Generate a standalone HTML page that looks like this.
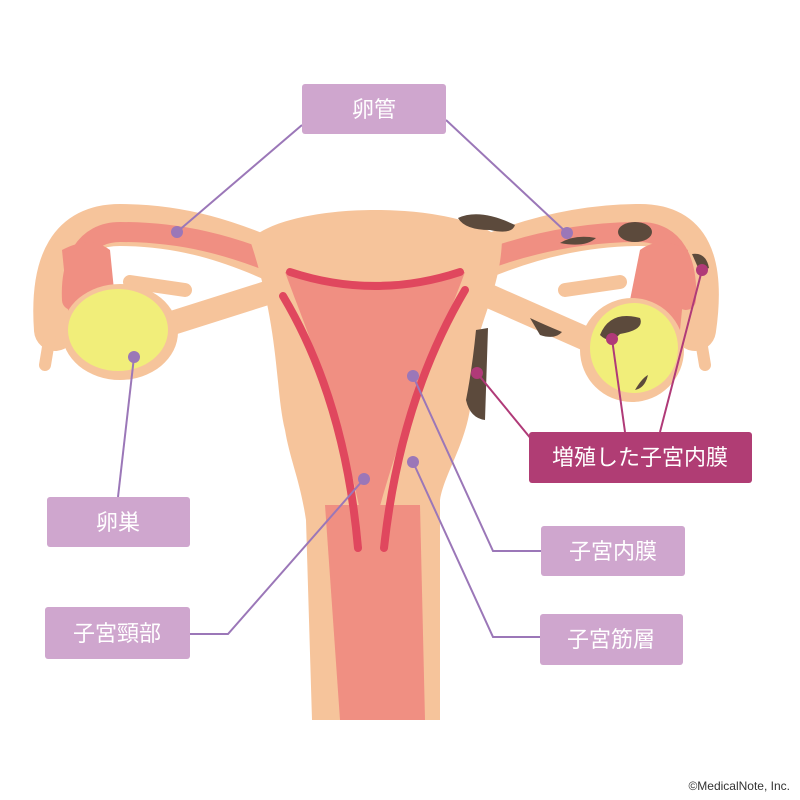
<!DOCTYPE html>
<html><head><meta charset="utf-8"><style>
body{margin:0;background:#fff}
svg{display:block}
text{font-family:"Liberation Sans","Noto Sans CJK JP",sans-serif}
</style></head><body>
<svg width="800" height="800" viewBox="0 0 800 800" xmlns="http://www.w3.org/2000/svg">
<g fill="none" stroke-linecap="round" stroke-linejoin="round">
<!-- tubes peach -->
<path d="M290,268 C230,240 180,225 120,225 C70,225 50,262 55,330" stroke="#f6c49b" stroke-width="42"/>
<path d="M460,268 C520,240 580,225 640,225 C690,225 705,262 695,330" stroke="#f6c49b" stroke-width="42"/>
<!-- ligaments -->
<path d="M150,330 L270,292" stroke="#f6c49b" stroke-width="24"/>
<path d="M600,345 L480,292" stroke="#f6c49b" stroke-width="24"/>
<path d="M130,282 L185,290" stroke="#f6c49b" stroke-width="14"/>
<path d="M620,282 L565,290" stroke="#f6c49b" stroke-width="14"/>
<path d="M50,335 L45,365" stroke="#f6c49b" stroke-width="12"/>
<path d="M700,335 L705,365" stroke="#f6c49b" stroke-width="12"/>
<!-- tubes pink -->
<path d="M290,270 C230,244 180,232 120,232 C85,232 70,262 72,300" stroke="#f08f82" stroke-width="20"/>
<path d="M460,270 C520,244 580,232 640,232 C675,232 688,262 686,300" stroke="#f08f82" stroke-width="20"/>
</g>
<path d="M62,250 Q90,235 110,250 L115,300 Q90,320 70,330 Z" fill="#f08f82"/>
<path d="M688,250 Q660,235 640,250 L630,300 Q660,320 680,330 Z" fill="#f08f82"/>
<!-- ovaries -->
<ellipse cx="120" cy="332" rx="58" ry="48" fill="#f6c49b"/>
<ellipse cx="118" cy="330" rx="50" ry="41" fill="#f1ee7a"/>
<ellipse cx="632" cy="350" rx="52" ry="52" fill="#f6c49b"/>
<ellipse cx="634" cy="348" rx="44" ry="45" fill="#f1ee7a"/>
<!-- uterus -->
<path d="M250,240 C290,200 460,200 502,240 C500,300 470,330 472,390 C470,440 445,470 440,500 L440,720 L312,720 L306,520 C300,480 290,460 285,430 C275,390 280,330 250,240 Z" fill="#f6c49b"/>
<path d="M285,272 C340,285 410,285 465,272 C440,340 400,420 368,552 C345,420 310,340 285,272 Z" fill="#f08f82"/>
<path d="M325,505 L420,505 L425,720 L340,720 Z" fill="#f08f82"/>
<g fill="none" stroke="#e0475e" stroke-width="8" stroke-linecap="round">
<path d="M290,272 Q375,300 460,272"/>
<path d="M283,296 Q345,400 358,548"/>
<path d="M465,290 Q400,400 384,548"/>
</g>
<!-- brown spots -->
<g fill="#5c4a3c">
<path d="M458,218 Q480,208 515,225 Q512,235 490,230 Q465,230 458,218 Z"/>
<path d="M560,243 Q575,234 596,238 Q585,248 560,243 Z"/>
<ellipse cx="635" cy="232" rx="17" ry="10"/>
<path d="M692,254 Q706,252 709,268 L700,272 Z"/>
<path d="M600,335 Q610,310 640,318 Q645,330 620,334 Q610,345 600,335 Z"/>
<path d="M635,390 Q642,378 648,375 Q645,388 635,390 Z"/>
<path d="M476,330 L488,328 L485,420 Q470,418 466,400 Q472,370 476,330 Z"/>
<path d="M530,318 Q545,325 562,332 Q555,340 540,335 Z"/>
</g>
<!-- connectors -->
<g fill="none" stroke="#9b77b8" stroke-width="2">
<path d="M302,125 L177,232"/><path d="M446,120 L567,233"/>
<path d="M118,497 L134,357"/>
<path d="M190,634 L228,634 L364,479"/>
<path d="M541,551 L493,551 L413,376"/>
<path d="M540,637 L493,637 L413,462"/>
</g>
<g fill="#9b77b8">
<circle cx="177" cy="232" r="6"/><circle cx="567" cy="233" r="6"/><circle cx="134" cy="357" r="6"/>
<circle cx="364" cy="479" r="6"/><circle cx="413" cy="376" r="6"/><circle cx="413" cy="462" r="6"/>
</g>
<g fill="none" stroke="#b03a78" stroke-width="2">
<path d="M532,440 L477,373"/><path d="M625,432 L612,339"/><path d="M660,432 L702,270"/>
</g>
<g fill="#b03a78">
<circle cx="477" cy="373" r="6"/><circle cx="612" cy="339" r="6"/><circle cx="702" cy="270" r="6"/>
</g>
<!-- labels -->
<g fill="#cfa6ce">
<rect x="302" y="84" width="144" height="50" rx="3"/>
<rect x="47" y="497" width="143" height="50" rx="3"/>
<rect x="45" y="607" width="145" height="52" rx="3"/>
<rect x="541" y="526" width="144" height="50" rx="3"/>
<rect x="540" y="614" width="143" height="51" rx="3"/>
</g>
<rect x="529" y="432" width="223" height="51" rx="3" fill="#b03d74"/>
<g font-size="22" fill="#fff" text-anchor="middle">
<text x="374" y="117">卵管</text>
<text x="118" y="530">卵巣</text>
<text x="117" y="641">子宮頸部</text>
<text x="613" y="559">子宮内膜</text>
<text x="611" y="647">子宮筋層</text>
<text x="640" y="465">増殖した子宮内膜</text>
</g>
<text x="790" y="790" font-size="12" fill="#333" text-anchor="end">©MedicalNote, Inc.</text>
</svg>
</body></html>
